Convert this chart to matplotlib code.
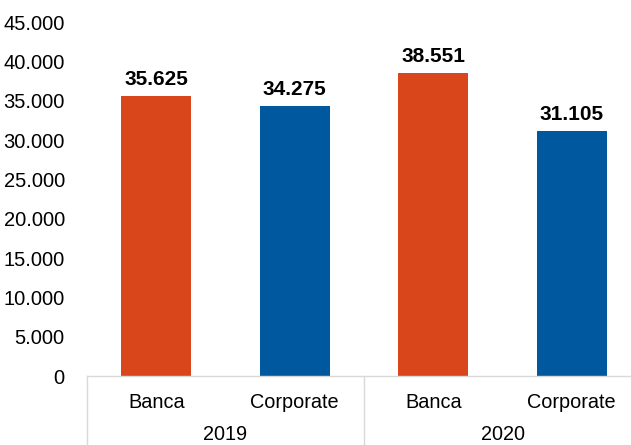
import matplotlib
matplotlib.use("Agg")
import matplotlib.pyplot as plt
from matplotlib.ticker import FuncFormatter, MultipleLocator
from matplotlib.transforms import blended_transform_factory

# Data
years = ["2019", "2020"]
segments = ["Banca", "Corporate"]
values = [35625, 34275, 38551, 31105]
colors = ["#D9461B", "#00599E", "#D9461B", "#00599E"]

plt.rcParams["font.family"] = ["Liberation Sans", "DejaVu Sans"]

W, H = 631, 445
fig = plt.figure(figsize=(W / 100, H / 100), dpi=100)
left, right, bottom, top = 87, 641, 376, 22
ax = fig.add_axes([left / W, (H - bottom) / H, (right - left) / W, (bottom - top) / H])

cats = [f"{s}|{y}" for y in years for s in segments]
x = list(range(len(cats)))
bars = ax.bar(x, values, width=0.505, color=colors, zorder=2)

for xi, v in zip(x, values):
    lbl = f"{v:,}".replace(",", ".")
    ax.annotate(lbl, (xi, v), xytext=(0, 5), textcoords="offset points",
                ha="center", va="bottom", fontsize=15, fontweight="bold", color="#000000")

ax.set_xlim(-0.5, len(cats) - 0.5)
ax.set_ylim(0, 45000)
ax.yaxis.set_major_locator(MultipleLocator(5000))
ax.yaxis.set_major_formatter(FuncFormatter(lambda v, p: f"{int(v):,}".replace(",", ".")))
ax.tick_params(axis="y", length=0, pad=16, labelsize=14.5, labelcolor="#000000")

for s in ["left", "right", "top"]:
    ax.spines[s].set_visible(False)
ax.spines["bottom"].set_color("#D9D9D9")
ax.spines["bottom"].set_linewidth(1.0)

ax.set_xticks(x)
ax.set_xticklabels([s for y in years for s in segments])
ax.tick_params(axis="x", length=0, pad=12, labelsize=14.3, labelcolor="#000000")

trans = blended_transform_factory(ax.transData, ax.transAxes)
axh = bottom - top
for gi, y in enumerate(years):
    cx = gi * len(segments) + (len(segments) - 1) / 2
    ax.text(cx, -59 / axh, y, transform=trans, ha="center", va="center",
            fontsize=14.3, color="#000000")
for b in range(len(years) + 1):
    xb = b * len(segments) - 0.5
    ax.plot([xb, xb], [0, -0.3], transform=trans, color="#D9D9D9",
            linewidth=1.0, clip_on=False)

fig.savefig("out.png", dpi=100)
